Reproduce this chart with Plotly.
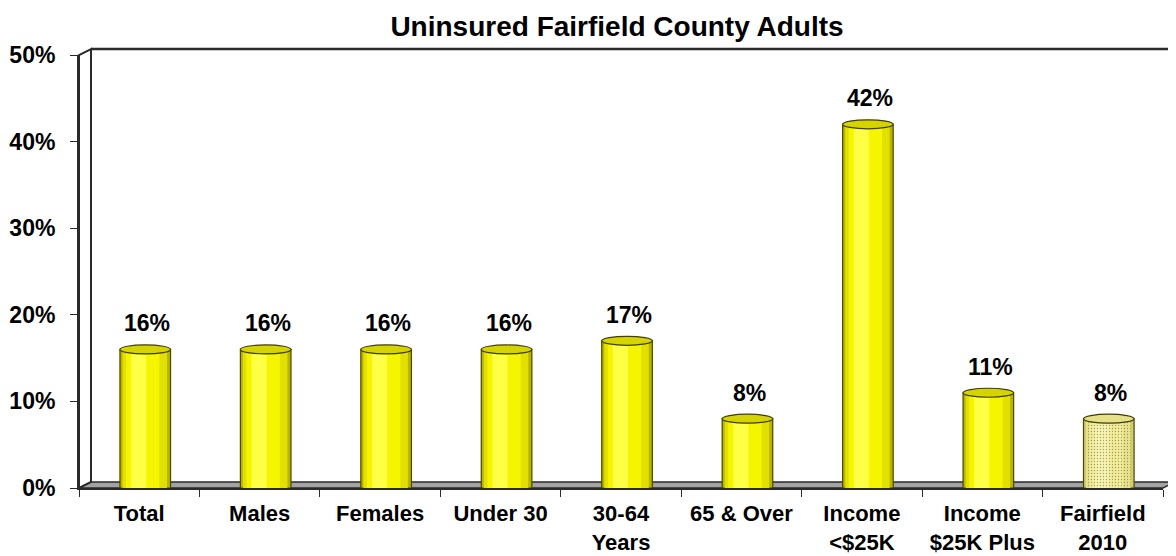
import plotly.graph_objects as go

# ---- data ----
categories = ["Total", "Males", "Females", "Under 30", "30-64<br>Years",
              "65 & Over", "Income<br>&lt;$25K", "Income<br>$25K Plus", "Fairfield<br>2010"]
values = [16, 16, 16, 16, 17, 8, 42, 11, 8]
value_labels = ["16%", "16%", "16%", "16%", "17%", "8%", "42%", "11%", "8%"]
y_tick_vals = [0, 10, 20, 30, 40, 50]
y_tick_text = ["0%", "10%", "20%", "30%", "40%", "50%"]
highlight = [False] * 8 + [True]   # last bar is the pale comparison bar

FONT = "Liberation Sans, Arial, sans-serif"
BODY = 8                      # default page body margin of the html page
W, H = 1176, 556
ML, MR, MT, MB = 79, 13, 55, 68
plot_w = W - ML - MR
plot_h = H - MT - MB
FW, FH = W - BODY, H - BODY   # figure size so that it fits the window

bar_w = 0.42
bar_off = -0.16

# cylinder shading strips: (start frac, end frac, normal colour, pale colour)
strips = [
    (0.00, 1.00, "#B8B400", "#D2CB70"),
    (0.05, 0.93, "#E2E000", "#E9E38A"),
    (0.12, 0.78, "#F5F500", "#F2ED96"),
    (0.22, 0.52, "#FFFF45", "#F7F3AC"),
]

fig = go.Figure()
for k, (s, e, col_n, col_p) in enumerate(strips):
    colors = [col_p if h else col_n for h in highlight]
    marker = dict(color=colors,
                  line=dict(color="#4A4700" if k == 0 else "rgba(0,0,0,0)",
                            width=1.2 if k == 0 else 0))
    if k >= 1:
        marker["pattern"] = dict(shape=["." if h else "" for h in highlight],
                                 fgcolor="#E2DA80", size=3, solidity=0.15)
    fig.add_trace(go.Bar(
        x=categories, y=values,
        width=bar_w * (e - s), offset=bar_off + bar_w * s,
        marker=marker, hoverinfo="skip", showlegend=False,
    ))

shapes = []
# 3D frame (paper coordinates)
dx = 12 / plot_w
dy = 6 / plot_h
shapes.append(dict(type="path", xref="paper", yref="paper", layer="below",
                   path=f"M 0,0 L 1,0 L {1+dx},{dy} L {dx},{dy} Z",
                   fillcolor="#A3A3A3", line=dict(color="#2A2A2A", width=1.5)))
shapes.append(dict(type="path", xref="paper", yref="paper", layer="below",
                   path=f"M 0,0 L 0,1 L {dx},{1+dy} L {dx},{dy} Z",
                   fillcolor="white", line=dict(color="#2A2A2A", width=2)))
shapes.append(dict(type="line", xref="paper", yref="paper", layer="below",
                   x0=dx, x1=(W - ML) / plot_w + 0.01, y0=1 + dy, y1=1 + dy,
                   line=dict(color="#2A2A2A", width=2.5)))

# cylinder caps derived from the data values
cap_h = 4.5 / plot_h * 50
for i, (v, h) in enumerate(zip(values, highlight)):
    shapes.append(dict(type="circle", xref="x", yref="y",
                       x0=i + bar_off, x1=i + bar_off + bar_w,
                       y0=v - cap_h, y1=v + cap_h,
                       fillcolor="#E6E08A" if h else "#D6D400",
                       line=dict(color="#3E3B00", width=1.2)))

annotations = []
for c, v, t in zip(categories, values, value_labels):
    annotations.append(dict(x=c, y=v, xref="x", yref="y", text=t,
                            showarrow=False, yanchor="bottom", xshift=8, yshift=11,
                            font=dict(family=FONT, size=23, color="black", weight="bold")))

fig.update_layout(
    width=FW, height=FH,
    margin=dict(l=ML - BODY, r=MR, t=MT - BODY, b=MB, pad=0, autoexpand=False),
    paper_bgcolor="white", plot_bgcolor="rgba(0,0,0,0)",
    barmode="overlay",
    title=dict(text="Uninsured Fairfield County Adults",
               x=(617 - BODY) / FW, xanchor="center",
               y=1 - (26 - BODY) / FH, yanchor="middle",
               xref="container", yref="container",
               font=dict(family=FONT, size=28, color="black", weight="bold")),
    shapes=shapes, annotations=annotations,
    font=dict(family=FONT, color="black"),
)
fig.update_xaxes(type="category", categoryorder="array", categoryarray=categories,
                 range=[-0.5, len(categories) - 0.5], automargin=False,
                 tickangle=0,
                 showline=True, linecolor="#2A2A2A", linewidth=1.5,
                 ticks="outside", tickson="boundaries", ticklen=7, tickcolor="#2A2A2A",
                 ticklabelstandoff=5,
                 showgrid=False, zeroline=False,
                 tickfont=dict(family=FONT, size=22, color="black", weight="bold"))
fig.update_yaxes(range=[0, 50], tickvals=y_tick_vals, ticktext=y_tick_text,
                 automargin=False,
                 showline=True, linecolor="#2A2A2A", linewidth=2,
                 ticks="outside", ticklen=7, tickcolor="#2A2A2A",
                 ticklabelstandoff=10,
                 showgrid=False, zeroline=False,
                 tickfont=dict(family=FONT, size=23, color="black", weight="bold"))

fig.write_html("out.html")
